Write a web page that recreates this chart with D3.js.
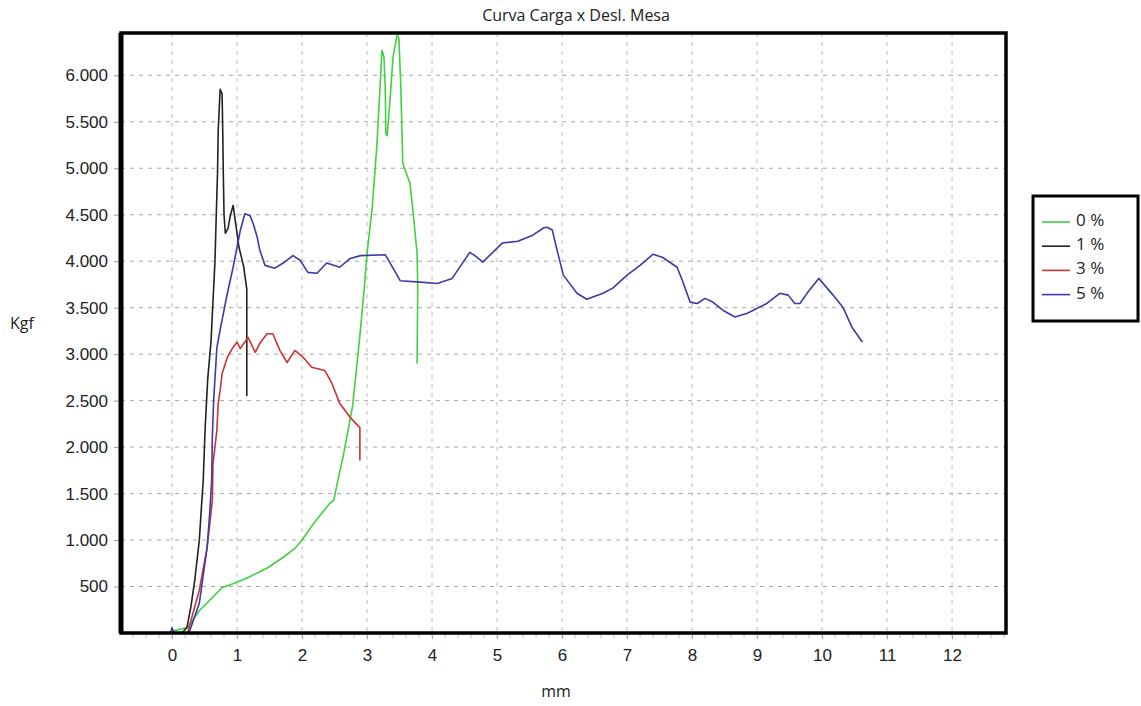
<!DOCTYPE html>
<html>
<head>
<meta charset="utf-8">
<script src="https://cdn.jsdelivr.net/npm/d3@7"></script>
<style>
  body { margin: 0; background: #fff; }
  svg { display: block; font-family: "Open Sans", "Noto Sans", sans-serif; }
</style>
</head>
<body>
<svg id="chart" width="1141" height="706"></svg>
<script>
// Curva Carga x Desl. Mesa  -  [mm, kgf]
var serie0 = [ // 0 %
  [0.0, 20], [0.24, 60], [0.42, 240], [0.62, 380], [0.77, 490], [0.94, 530],
  [1.18, 600], [1.48, 705], [1.71, 815], [1.89, 910], [2.0, 1000], [2.18, 1180],
  [2.42, 1390], [2.49, 1430], [2.55, 1640], [2.63, 1890], [2.78, 2450], [2.89, 3200],
  [2.95, 3650], [3.0, 4080], [3.08, 4580], [3.15, 5230], [3.2, 5870], [3.23, 6270],
  [3.26, 6200], [3.28, 5870], [3.29, 5370], [3.31, 5350], [3.35, 5700], [3.4, 6195],
  [3.46, 6430], [3.49, 6400], [3.52, 5870], [3.55, 5050], [3.66, 4840], [3.71, 4515],
  [3.77, 4085], [3.78, 3720], [3.77, 2900]
];
var serie1 = [ // 1 %
  [0.0, 0], [0.15, 0], [0.23, 60], [0.29, 280], [0.35, 570], [0.42, 1000],
  [0.45, 1330], [0.48, 1640], [0.51, 2210], [0.55, 2740], [0.6, 3140], [0.63, 3570],
  [0.66, 3990], [0.68, 4480], [0.7, 4950], [0.71, 5400], [0.74, 5850], [0.77, 5800],
  [0.78, 5400], [0.79, 4900], [0.8, 4500], [0.82, 4300], [0.86, 4350], [0.9, 4500],
  [0.94, 4600], [0.98, 4400], [1.03, 4150], [1.1, 3950], [1.15, 3700], [1.15, 2550]
];
var serie3 = [ // 3 %
  [0.24, 0], [0.29, 130], [0.42, 460], [0.54, 920], [0.62, 1420], [0.63, 1820],
  [0.69, 2180], [0.71, 2470], [0.74, 2610], [0.77, 2790], [0.85, 2965], [0.94, 3075],
  [1.0, 3130], [1.05, 3060], [1.17, 3180], [1.28, 3020], [1.35, 3115], [1.46, 3220],
  [1.55, 3220], [1.66, 3040], [1.77, 2910], [1.89, 3040], [2.02, 2965], [2.15, 2860],
  [2.35, 2825], [2.46, 2685], [2.58, 2470], [2.74, 2320], [2.89, 2210], [2.89, 1855]
];
var serie5 = [ // 5 %
  [-0.02, 0], [0.0, 60], [0.03, 0], [0.26, 0], [0.42, 320], [0.54, 920], [0.58, 1290],
  [0.61, 1640], [0.62, 2100], [0.64, 2500], [0.69, 3070], [0.74, 3260], [0.85, 3650],
  [0.94, 3935], [1.0, 4150], [1.05, 4330], [1.12, 4510], [1.2, 4490], [1.25, 4400],
  [1.31, 4260], [1.35, 4120], [1.43, 3955], [1.58, 3925], [1.71, 3980], [1.86, 4060],
  [1.97, 4010], [2.09, 3880], [2.23, 3870], [2.38, 3980], [2.58, 3935], [2.74, 4030],
  [2.9, 4060], [3.28, 4070], [3.38, 3950], [3.51, 3790], [3.82, 3775], [4.08, 3760],
  [4.31, 3815], [4.45, 3960], [4.58, 4095], [4.66, 4060], [4.78, 3990], [5.08, 4195],
  [5.32, 4215], [5.55, 4280], [5.72, 4360], [5.77, 4365], [5.85, 4335], [5.93, 4100],
  [6.02, 3850], [6.23, 3655], [6.38, 3590], [6.63, 3655], [6.78, 3710], [7.0, 3850],
  [7.2, 3955], [7.4, 4075], [7.55, 4040], [7.77, 3935], [7.85, 3795], [7.97, 3560],
  [8.08, 3545], [8.2, 3600], [8.32, 3560], [8.48, 3470], [8.66, 3400], [8.85, 3440],
  [9.15, 3545], [9.35, 3655], [9.48, 3635], [9.58, 3545], [9.66, 3545], [9.78, 3665],
  [9.95, 3815], [10.17, 3635], [10.32, 3505], [10.46, 3290], [10.62, 3130]
];
var seriesNames = ['0 %', '1 %', '3 %', '5 %'];
var seriesColors = ['#3fd23f', '#222222', '#cc3333', '#3b3ba8'];
var xTicks = [0, 1, 2, 3, 4, 5, 6, 7, 8, 9, 10, 11, 12];
var yTicks = [500, 1000, 1500, 2000, 2500, 3000, 3500, 4000, 4500, 5000, 5500, 6000];

(function() {
    var svg = d3.select('#chart');
    var pl = 121, pt = 33, pr = 1006, pb = 633;

    var x = d3.scaleLinear().domain([-0.785, 12.83]).range([pl, pr]);
    var y = d3.scaleLinear().domain([0, 6455]).range([pb, pt]);
    var fmt = d3.formatLocale({decimal: ',', thousands: '.', grouping: [3], currency: ['', '']}).format(',d');

    // title
    svg.append('text')
        .attr('x', 576).attr('y', 21)
        .attr('text-anchor', 'middle')
        .style('font-size', '16px').style('fill', '#222')
        .text('Curva Carga x Desl. Mesa');

    // grid
    var grid = svg.append('g');
    grid.selectAll('line.h').data(yTicks).enter().append('line')
        .attr('x1', pl).attr('x2', pr)
        .attr('y1', function(d){ return y(d); }).attr('y2', function(d){ return y(d); })
        .style('stroke', '#a8a8a8').style('stroke-dasharray', '4,5');
    grid.selectAll('line.v').data(xTicks).enter().append('line')
        .attr('x1', function(d){ return x(d); }).attr('x2', function(d){ return x(d); })
        .attr('y1', pt).attr('y2', pb)
        .style('stroke', '#bdbdbd').style('stroke-dasharray', '4,5');

    // axes
    var yAxis = svg.append('g')
        .attr('transform', 'translate(' + (pl - 2) + ',0)')
        .call(d3.axisLeft(y).tickValues(yTicks).tickFormat(fmt).tickSize(5).tickPadding(6));
    yAxis.select('.domain').remove();
    yAxis.selectAll('line').style('stroke', '#999');
    yAxis.selectAll('text').style('font-size', '17px').style('fill', '#222');

    var xAxis = svg.append('g')
        .attr('transform', 'translate(0,' + (pb + 2) + ')')
        .call(d3.axisBottom(x).tickValues(xTicks).tickFormat(d3.format('d')).tickSize(4).tickPadding(10));
    xAxis.select('.domain').remove();
    xAxis.selectAll('line').style('stroke', '#999');
    xAxis.selectAll('text').style('font-size', '17px').style('fill', '#222');

    var minor = d3.range(-0.6, 12.81, 0.2);
    svg.append('g').selectAll('line').data(minor).enter().append('line')
        .attr('x1', function(d){ return x(d); }).attr('x2', function(d){ return x(d); })
        .attr('y1', pb + 2).attr('y2', pb + 5)
        .style('stroke', '#bbb');

    svg.append('text').attr('x', 10).attr('y', 329)
        .style('font-size', '16px').style('fill', '#222').text('Kgf');
    svg.append('text').attr('x', 556).attr('y', 697).attr('text-anchor', 'middle')
        .style('font-size', '16px').style('fill', '#222').text('mm');

    // curves
    var line = d3.line()
        .x(function(d){ return x(d[0]); })
        .y(function(d){ return y(d[1]); });
    var allSeries = [serie0, serie1, serie3, serie5];
    svg.append('g').selectAll('path').data(allSeries).enter().append('path')
        .attr('d', line)
        .style('fill', 'none')
        .style('stroke', function(d, i){ return seriesColors[i]; })
        .style('stroke-width', 1.6)
        .style('stroke-linejoin', 'round');

    // frame
    svg.append('rect')
        .attr('x', pl).attr('y', pt)
        .attr('width', pr - pl).attr('height', pb - pt)
        .style('fill', 'none').style('stroke', '#000').style('stroke-width', 3.5);
    svg.append('line').attr('x1', pl).attr('x2', pl).attr('y1', pt).attr('y2', pb)
        .style('stroke', '#000').style('stroke-width', 5);

    // legend
    var lg = svg.append('g');
    lg.append('rect').attr('x', 1033).attr('y', 196).attr('width', 105).attr('height', 125)
        .style('fill', '#fff').style('stroke', '#000').style('stroke-width', 3);
    var item = lg.selectAll('g.item').data(seriesNames).enter().append('g')
        .attr('transform', function(d, i){ return 'translate(0,' + (220 + i * 24.2) + ')'; });
    item.append('line').attr('x1', 1042).attr('x2', 1070).attr('y1', 2).attr('y2', 2)
        .style('stroke', function(d, i){ return seriesColors[i]; }).style('stroke-width', 1.6);
    item.append('text').attr('x', 1076).attr('y', 0).attr('dy', '0.35em')
        .style('font-size', '17px').style('fill', '#222')
        .text(function(d){ return d; });
})();
</script>
</body>
</html>
